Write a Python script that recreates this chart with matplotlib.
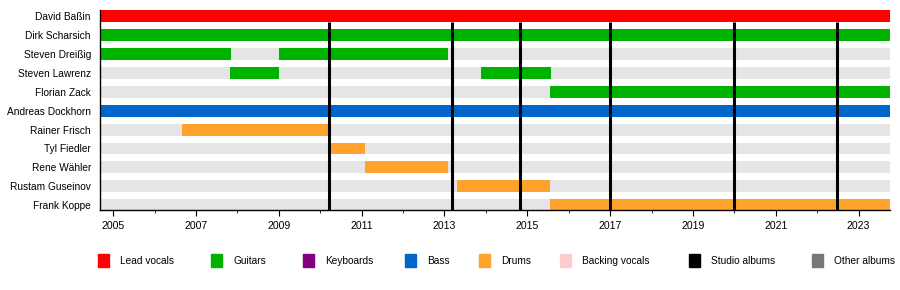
import matplotlib.pyplot as plt
from matplotlib.patches import Rectangle

plt.rcParams['font.family'] = ['Liberation Sans', 'DejaVu Sans']

# band members (top to bottom)
members = ['David Baßin', 'Dirk Scharsich', 'Steven Dreißig', 'Steven Lawrenz',
           'Florian Zack', 'Andreas Dockhorn', 'Rainer Frisch', 'Tyl Fiedler',
           'Rene Wähler', 'Rustam Guseinov', 'Frank Koppe']

start = 2004.68
end = 2023.76

# (member index, from, to, role)
periods = [
    (0, start, end, 'Lead vocals'),
    (1, start, end, 'Guitars'),
    (2, start, 2007.84, 'Guitars'),
    (2, 2009.0, 2013.09, 'Guitars'),
    (3, 2007.82, 2009.0, 'Guitars'),
    (3, 2013.88, 2015.57, 'Guitars'),
    (4, 2015.55, end, 'Guitars'),
    (5, start, end, 'Bass'),
    (6, 2006.65, 2010.24, 'Drums'),
    (7, 2010.24, 2011.09, 'Drums'),
    (8, 2011.09, 2013.09, 'Drums'),
    (9, 2013.31, 2015.56, 'Drums'),
    (10, 2015.56, end, 'Drums'),
]

studio_albums = [2010.22, 2013.19, 2014.82, 2016.99, 2019.99, 2022.47]

roles = ['Lead vocals', 'Guitars', 'Keyboards', 'Bass', 'Drums',
         'Backing vocals', 'Studio albums', 'Other albums']
role_colors = ['#ff0000', '#00b300', '#800080', '#0066cc', '#ffa32c',
               '#ffcccc', '#000000', '#777777']
color_of = dict(zip(roles, role_colors))

fig = plt.figure(figsize=(9, 2.9), dpi=100)
ax = fig.add_axes([100 / 900, 1 - 210 / 290, 790 / 900, 200 / 290])

bar_h = 0.635
rows = range(len(members))

# grey background bar for every member
ax.barh(list(rows), end - start, left=start, height=bar_h, color='#e5e5e5', zorder=1)

# membership periods
for i, a, b, role in periods:
    ax.barh(i, b - a, left=a, height=bar_h, color=color_of[role], zorder=2)

# studio album lines
for x in studio_albums:
    ax.vlines(x, bar_h / 2, len(members) - 0.74, color='black', linewidth=2.2, zorder=3)

ax.set_xlim(start, end)
ax.set_ylim(len(members) - 0.74, -0.34)

ax.set_yticks(list(rows))
ax.set_yticklabels(members, fontsize=7.3)
ax.tick_params(axis='y', length=0, pad=6.5)

ax.set_xticks(list(range(2005, 2024, 2)))
ax.set_xticks(list(range(2006, 2024, 2)), minor=True)
ax.tick_params(axis='x', which='major', length=4, labelsize=7.6, pad=4)
ax.tick_params(axis='x', which='minor', length=2.5)

for s in ['top', 'right']:
    ax.spines[s].set_visible(False)
ax.spines['left'].set_linewidth(1)
ax.spines['bottom'].set_linewidth(1)

# legend drawn by hand like the original timeline
legend_x = [98, 211, 303, 405, 479, 560, 689, 812]
for x, role in zip(legend_x, roles):
    fig.patches.append(Rectangle((x / 900, 1 - 267 / 290), 11 / 900, 13 / 290,
                                 transform=fig.transFigure, color=color_of[role]))
    fig.text((x + 22) / 900, 1 - 261 / 290, role, fontsize=7.3, va='center')

plt.savefig('out.png', dpi=100)
